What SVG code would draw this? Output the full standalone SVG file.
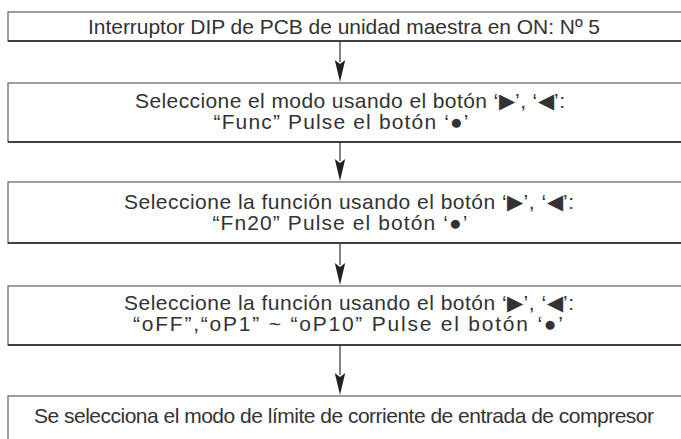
<svg xmlns="http://www.w3.org/2000/svg" width="681" height="439" viewBox="0 0 681 439">
<style>
.box{fill:#fff;stroke:#6a6a6a;stroke-width:1.3}
.bot{stroke:#222;stroke-width:1.4}
.t{font-family:"Liberation Sans",Arial,sans-serif;font-size:21px;fill:#333;text-anchor:middle}
.c{stroke:#333;stroke-width:1.2;fill:none}
.h{fill:#222}
</style>
<rect width="681" height="439" fill="#fff"/>
<g id="connectors">
<path class="c" d="M340,41 V62"/>
<path class="h" d="M334.8,60 L340,82 L345.2,60 L340,64 Z"/>
<path class="c" d="M340,142 V161"/>
<path class="h" d="M334.8,159 L340,181 L345.2,159 L340,163 Z"/>
<path class="c" d="M340,243 V265"/>
<path class="h" d="M334.8,263 L340,285 L345.2,263 L340,267 Z"/>
<path class="c" d="M340,345 V375"/>
<path class="h" d="M334.8,373 L340,395 L345.2,373 L340,377 Z"/>
</g>
<g id="n1">
<rect class="box" x="8" y="12" width="690" height="29"/>
<line class="bot" x1="8" y1="41" x2="681" y2="41"/>
<text class="t" x="344" y="34" textLength="512" lengthAdjust="spacing">Interruptor DIP de PCB de unidad maestra en ON: Nº 5</text>
</g>
<g id="n2">
<rect class="box" x="8" y="83" width="690" height="59"/>
<line class="bot" x1="8" y1="142" x2="681" y2="142"/>
<text class="t" x="350" y="108" textLength="430" lengthAdjust="spacing">Seleccione el modo usando el botón ‘▶’, ‘◀’:</text>
<text class="t" x="341" y="129" textLength="255" lengthAdjust="spacing">“Func” Pulse el botón ‘●’</text>
</g>
<g id="n3">
<rect class="box" x="8" y="182" width="690" height="61"/>
<line class="bot" x1="8" y1="243" x2="681" y2="243"/>
<text class="t" x="349" y="209" textLength="450" lengthAdjust="spacing">Seleccione la función usando el botón ‘▶’, ‘◀’:</text>
<text class="t" x="340" y="230" textLength="255" lengthAdjust="spacing">“Fn20” Pulse el botón ‘●’</text>
</g>
<g id="n4">
<rect class="box" x="8" y="286" width="690" height="59"/>
<line class="bot" x1="8" y1="345" x2="681" y2="345"/>
<text class="t" x="349" y="310" textLength="450" lengthAdjust="spacing">Seleccione la función usando el botón ‘▶’, ‘◀’:</text>
<text class="t" x="348" y="331" textLength="430" lengthAdjust="spacing">“oFF”,“oP1” ~ “oP10” Pulse el botón ‘●’</text>
</g>
<g id="n5">
<rect class="box" x="8" y="396" width="690" height="60"/>
<text class="t" x="344" y="423" textLength="620" lengthAdjust="spacing">Se selecciona el modo de límite de corriente de entrada de compresor</text>
</g>
</svg>
